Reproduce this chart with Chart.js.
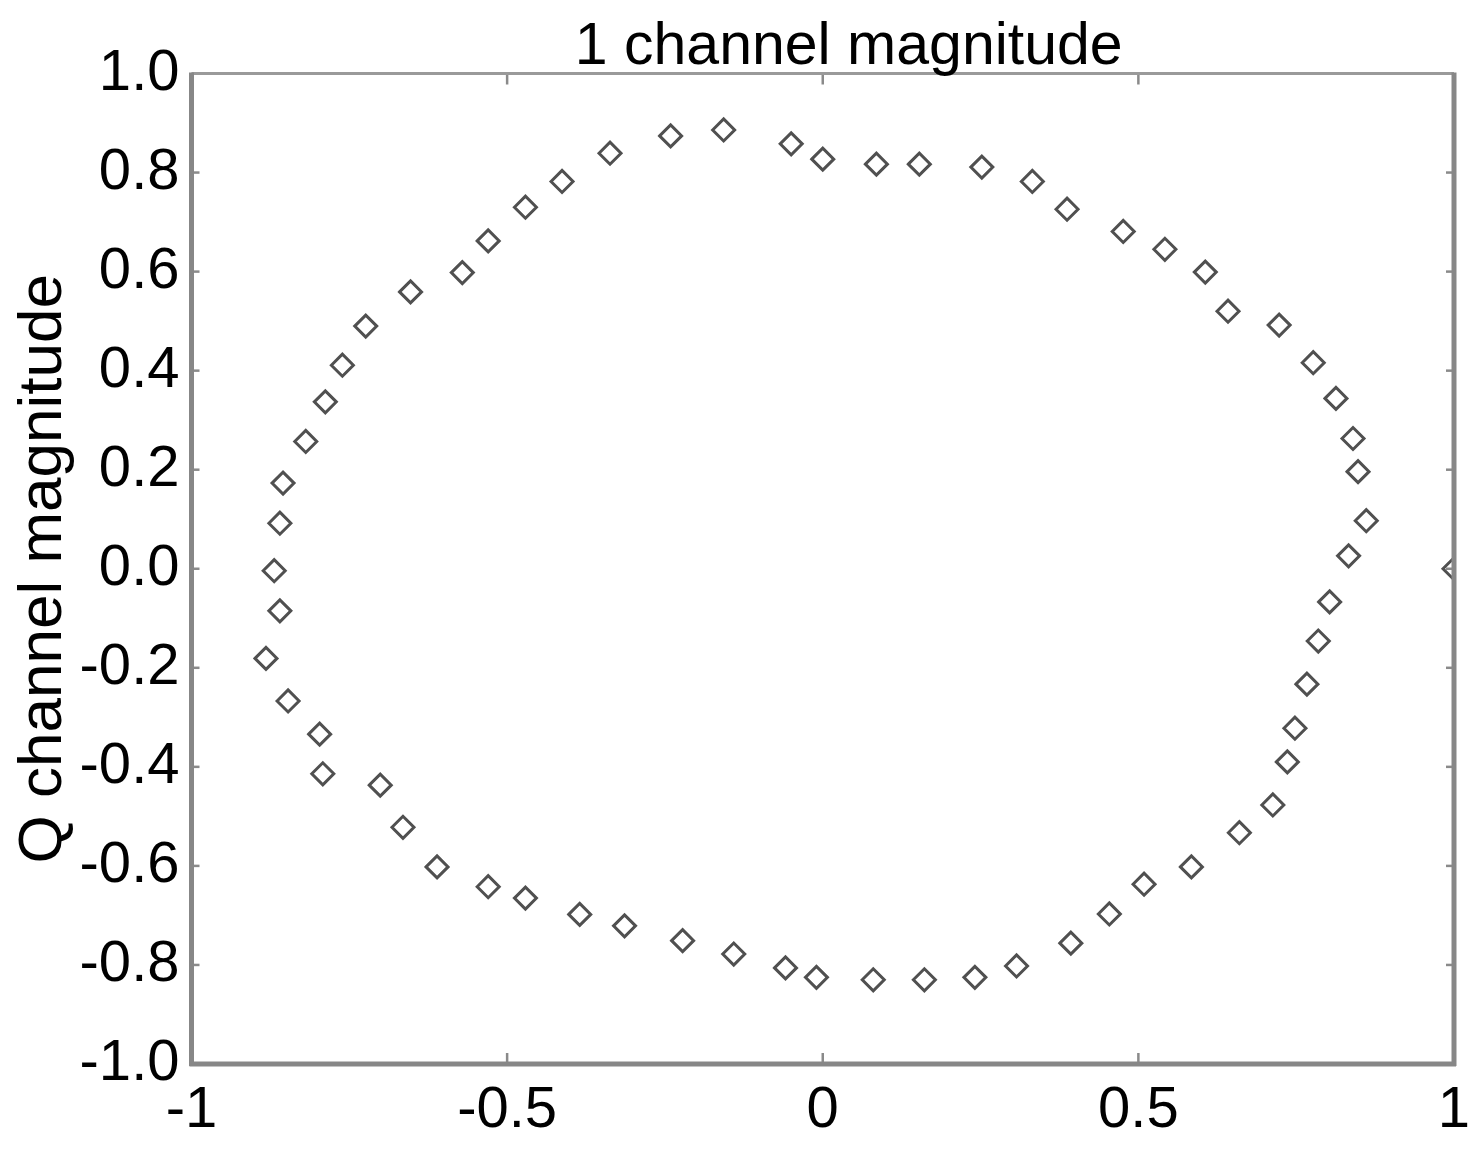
<!DOCTYPE html>
<html>
<head>
<meta charset="utf-8">
<script src="https://cdn.jsdelivr.net/npm/chart.js@4.4.0/dist/chart.umd.min.js"></script>
<style>
  html, body { margin: 0; padding: 0; background: #fff; }
  #wrap { width: 1484px; height: 1157px; position: relative; }
</style>
</head>
<body>
<div id="wrap"><canvas id="grafico"></canvas></div>
<script>
// Dados (constelação I/Q)
const iChannel = [
  0.861, 0.848, 0.840, 0.813, 0.777, 0.723, 0.642, 0.606, 0.542, 0.476,
  0.387, 0.332, 0.252, 0.153, 0.085, 0.000, -0.050, -0.157, -0.241, -0.337,
  -0.413, -0.471, -0.530, -0.571, -0.653, -0.724, -0.761, -0.788, -0.819, -0.855,
  -0.860, -0.869, -0.860, -0.882, -0.847, -0.797, -0.792, -0.701, -0.665, -0.611,
  -0.530, -0.471, -0.385, -0.314, -0.222, -0.141, -0.059, -0.010, 0.080, 0.161,
  0.241, 0.307, 0.393, 0.454, 0.509, 0.584, 0.660, 0.713, 0.736, 0.748,
  0.767, 0.785, 0.803, 0.833, 1.000
];
const qChannel = [
  0.097, 0.196, 0.263, 0.344, 0.416, 0.492, 0.520, 0.599, 0.645, 0.681,
  0.726, 0.782, 0.811, 0.817, 0.817, 0.827, 0.858, 0.886, 0.874, 0.839,
  0.782, 0.730, 0.662, 0.598, 0.559, 0.490, 0.411, 0.337, 0.257, 0.173,
  0.092, -0.004, -0.085, -0.181, -0.267, -0.334, -0.414, -0.437, -0.522, -0.602,
  -0.642, -0.665, -0.698, -0.721, -0.751, -0.778, -0.806, -0.825, -0.830, -0.830,
  -0.825, -0.802, -0.756, -0.697, -0.637, -0.602, -0.533, -0.477, -0.390, -0.322,
  -0.233, -0.146, -0.067, 0.026, 0.000
];
const xTickValues = [-1, -0.5, 0, 0.5, 1];
const yTickValues = [-1, -0.8, -0.6, -0.4, -0.2, 0, 0.2, 0.4, 0.6, 0.8, 1];
const titulo = '1 channel magnitude';
const tituloY = 'Q channel magnitude';

const fonte = '"Liberation Sans", Arial, sans-serif';

// Moldura, marcas internas dos eixos e título
const moldura = {
  id: 'moldura',
  afterDraw(chart) {
    const { ctx, chartArea: a, scales: { x, y } } = chart;
    const linha = (x1, y1, x2, y2) => {
      ctx.beginPath(); ctx.moveTo(x1, y1); ctx.lineTo(x2, y2); ctx.stroke();
    };
    ctx.save();
    ctx.strokeStyle = '#8a8a8a';

    // marcas internas
    ctx.lineWidth = 2.5;
    x.ticks.forEach(t => {
      if (t.value <= x.min || t.value >= x.max) return;
      const px = x.getPixelForValue(t.value);
      linha(px, a.bottom, px, a.bottom - 11);
      linha(px, a.top, px, a.top + 11);
    });
    y.ticks.forEach(t => {
      if (t.value <= y.min || t.value >= y.max) return;
      const py = y.getPixelForValue(t.value);
      linha(a.left, py, a.left + 8, py);
      linha(a.right, py, a.right - 8, py);
    });

    // bordas
    ctx.strokeStyle = '#9a9a9a';
    ctx.lineWidth = 3;
    linha(a.left, a.top, a.right, a.top);
    ctx.strokeStyle = '#878787';
    ctx.lineWidth = 5;
    linha(a.right, a.top - 1, a.right, a.bottom + 2);
    linha(a.left, a.top - 1, a.left, a.bottom + 2);
    linha(a.left - 2, a.bottom, a.right + 2, a.bottom);

    // título
    ctx.fillStyle = '#000';
    ctx.font = '59px ' + fonte;
    ctx.textAlign = 'center';
    ctx.textBaseline = 'alphabetic';
    ctx.fillText(titulo, (a.left + a.right) / 2 + 26, 64);
    ctx.restore();
  }
};

const pontos = iChannel.map((v, i) => ({ x: v, y: qChannel[i] }));

new Chart(document.getElementById('grafico'), {
  type: 'scatter',
  data: {
    datasets: [{
      data: pontos,
      pointStyle: 'rectRot',
      pointRadius: 11,
      pointBorderWidth: 3,
      pointBorderColor: '#505050',
      pointBackgroundColor: 'rgba(0,0,0,0)'
    }]
  },
  options: {
    responsive: true,
    maintainAspectRatio: false,
    animation: false,
    layout: { padding: { top: 73.5, right: 30, bottom: 0, left: 0 } },
    plugins: {
      legend: { display: false },
      tooltip: { enabled: false },
      title: { display: false }
    },
    scales: {
      x: {
        type: 'linear',
        min: -1,
        max: 1,
        afterBuildTicks: s => { s.ticks = xTickValues.map(v => ({ value: v })); },
        afterFit: s => { s.height = 93; },
        grid: { display: false, drawTicks: false },
        border: { display: false },
        ticks: {
          color: '#000',
          padding: 12,
          maxRotation: 0,
          autoSkip: false,
          font: { family: fonte, size: 58 },
          callback: v => String(v)
        }
      },
      y: {
        type: 'linear',
        min: -1,
        max: 1,
        afterBuildTicks: s => { s.ticks = yTickValues.map(v => ({ value: v })); },
        afterFit: s => { s.width = 191.5; },
        grid: { display: false, drawTicks: false },
        border: { display: false },
        title: {
          display: true,
          text: tituloY,
          color: '#000',
          font: { family: fonte, size: 62, lineHeight: 1.2 },
          padding: { top: 7, bottom: 0 }
        },
        ticks: {
          color: '#000',
          padding: 12,
          autoSkip: false,
          font: { family: fonte, size: 58 },
          callback: v => (Math.abs(v) < 1e-9 ? '0.0' : v.toFixed(1))
        }
      }
    }
  },
  plugins: [moldura]
});
</script>
</body>
</html>
